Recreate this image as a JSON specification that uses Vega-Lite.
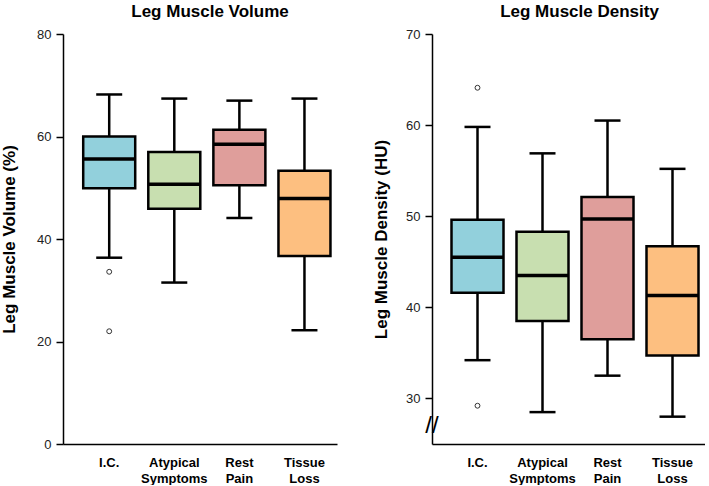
{
  "$schema": "https://vega.github.io/schema/vega-lite/v6.json",
  "background": "white",
  "padding": {"left": 0, "top": 3, "right": 0, "bottom": 0},
  "config": {
    "view": {"stroke": null},
    "font": "Liberation Sans",
    "concat": {"spacing": 35},
    "axisY": {"domainColor": "black", "domainWidth": 1.5, "tickColor": "black", "tickWidth": 1.5, "tickSize": 7, "labelFontSize": 13, "labelColor": "#222", "labelPadding": 5, "titleFontSize": 17, "titleFontWeight": "bold", "titleColor": "black", "titlePadding": 15, "grid": false},
    "axisX": {"domainColor": "black", "domainWidth": 1.5, "ticks": false, "labelFontSize": 13, "labelFontWeight": "bold", "labelColor": "black", "labelPadding": 12, "labelAngle": 0, "labelLineHeight": 16, "title": null, "grid": false},
    "title": {"fontSize": 17, "fontWeight": "bold", "color": "black", "anchor": "middle"}
  },
  "datasets": {
    "vol": [
      {"group": "I.C.", "min": 36.35, "q1": 49.9, "median": 55.6, "q3": 60.0, "max": 68.2},
      {"group": "Atypical Symptoms", "min": 31.5, "q1": 45.9, "median": 50.7, "q3": 57.0, "max": 67.4},
      {"group": "Rest Pain", "min": 44.1, "q1": 50.5, "median": 58.5, "q3": 61.3, "max": 67.0},
      {"group": "Tissue Loss", "min": 22.2, "q1": 36.7, "median": 47.9, "q3": 53.3, "max": 67.4}
    ],
    "volOut": [
      {"group": "I.C.", "value": 33.6},
      {"group": "I.C.", "value": 22.0}
    ],
    "den": [
      {"group": "I.C.", "min": 34.2, "q1": 41.6, "median": 45.5, "q3": 49.6, "max": 59.8},
      {"group": "Atypical Symptoms", "min": 28.5, "q1": 38.5, "median": 43.5, "q3": 48.3, "max": 56.9},
      {"group": "Rest Pain", "min": 32.5, "q1": 36.5, "median": 49.7, "q3": 52.1, "max": 60.5},
      {"group": "Tissue Loss", "min": 28.0, "q1": 34.7, "median": 41.3, "q3": 46.7, "max": 55.2}
    ],
    "denOut": [
      {"group": "I.C.", "value": 64.1},
      {"group": "I.C.", "value": 29.2}
    ],
    "brk": [{"value": 27.0, "label": "//"}]
  },
  "hconcat": [
    {
      "width": 274,
      "height": 410,
      "title": {"text": "Leg Muscle Volume", "dx": 10, "offset": 7},
      "layer": [
        {
          "data": {"name": "vol"},
          "mark": {"type": "rule", "color": "black", "strokeWidth": 2.5},
          "encoding": {
            "x": {"field": "group", "type": "nominal", "scale": {"domain": ["I.C.", "Atypical Symptoms", "Rest Pain", "Tissue Loss"], "paddingInner": 0, "paddingOuter": 0.105, "align": 1}, "axis": {"labelExpr": "split(datum.label, ' ')"}},
            "y": {"field": "min", "type": "quantitative", "scale": {"domain": [0, 80], "nice": false}, "axis": {"values": [0, 20, 40, 60, 80], "title": "Leg Muscle Volume (%)", "titlePadding": 18}},
            "y2": {"field": "max"}
          }
        },
        {
          "data": {"name": "vol"},
          "mark": {"type": "bar", "size": 52, "stroke": "black", "strokeWidth": 2.5, "opacity": 1},
          "encoding": {
            "x": {"field": "group", "type": "nominal"},
            "y": {"field": "q1", "type": "quantitative"},
            "y2": {"field": "q3"},
            "color": {"field": "group", "type": "nominal", "scale": {"domain": ["I.C.", "Atypical Symptoms", "Rest Pain", "Tissue Loss"], "range": ["#92d0dc", "#c8dfb0", "#df9e9b", "#fdbf80"]}, "legend": null}
          }
        },
        {
          "data": {"name": "vol"},
          "mark": {"type": "tick", "size": 52, "thickness": 3.5, "color": "black", "opacity": 1},
          "encoding": {"x": {"field": "group", "type": "nominal"}, "y": {"field": "median", "type": "quantitative"}}
        },
        {
          "data": {"name": "vol"},
          "mark": {"type": "tick", "size": 26, "thickness": 2.5, "color": "black", "opacity": 1},
          "encoding": {"x": {"field": "group", "type": "nominal"}, "y": {"field": "min", "type": "quantitative"}}
        },
        {
          "data": {"name": "vol"},
          "mark": {"type": "tick", "size": 26, "thickness": 2.5, "color": "black", "opacity": 1},
          "encoding": {"x": {"field": "group", "type": "nominal"}, "y": {"field": "max", "type": "quantitative"}}
        },
        {
          "data": {"name": "volOut"},
          "mark": {"type": "point", "shape": "circle", "filled": false, "size": 24, "stroke": "#333", "strokeWidth": 1, "opacity": 1},
          "encoding": {"x": {"field": "group", "type": "nominal"}, "y": {"field": "value", "type": "quantitative"}}
        }
      ]
    },
    {
      "width": 273,
      "height": 410,
      "title": {"text": "Leg Muscle Density", "dx": 11, "offset": 7},
      "layer": [
        {
          "data": {"name": "den"},
          "mark": {"type": "rule", "color": "black", "strokeWidth": 2.5},
          "encoding": {
            "x": {"field": "group", "type": "nominal", "scale": {"domain": ["I.C.", "Atypical Symptoms", "Rest Pain", "Tissue Loss"], "paddingInner": 0, "paddingOuter": 0.1, "align": 1}, "axis": {"labelExpr": "split(datum.label, ' ')"}},
            "y": {"field": "min", "type": "quantitative", "scale": {"domain": [25, 70], "nice": false, "zero": false}, "axis": {"values": [30, 40, 50, 60, 70], "title": "Leg Muscle Density (HU)"}},
            "y2": {"field": "max"}
          }
        },
        {
          "data": {"name": "den"},
          "mark": {"type": "bar", "size": 52, "stroke": "black", "strokeWidth": 2.5, "opacity": 1},
          "encoding": {
            "x": {"field": "group", "type": "nominal"},
            "y": {"field": "q1", "type": "quantitative"},
            "y2": {"field": "q3"},
            "color": {"field": "group", "type": "nominal", "scale": {"domain": ["I.C.", "Atypical Symptoms", "Rest Pain", "Tissue Loss"], "range": ["#92d0dc", "#c8dfb0", "#df9e9b", "#fdbf80"]}, "legend": null}
          }
        },
        {
          "data": {"name": "den"},
          "mark": {"type": "tick", "size": 52, "thickness": 3.5, "color": "black", "opacity": 1},
          "encoding": {"x": {"field": "group", "type": "nominal"}, "y": {"field": "median", "type": "quantitative"}}
        },
        {
          "data": {"name": "den"},
          "mark": {"type": "tick", "size": 26, "thickness": 2.5, "color": "black", "opacity": 1},
          "encoding": {"x": {"field": "group", "type": "nominal"}, "y": {"field": "min", "type": "quantitative"}}
        },
        {
          "data": {"name": "den"},
          "mark": {"type": "tick", "size": 26, "thickness": 2.5, "color": "black", "opacity": 1},
          "encoding": {"x": {"field": "group", "type": "nominal"}, "y": {"field": "max", "type": "quantitative"}}
        },
        {
          "data": {"name": "denOut"},
          "mark": {"type": "point", "shape": "circle", "filled": false, "size": 24, "stroke": "#333", "strokeWidth": 1, "opacity": 1},
          "encoding": {"x": {"field": "group", "type": "nominal"}, "y": {"field": "value", "type": "quantitative"}}
        },
        {
          "data": {"name": "brk"},
          "mark": {"type": "text", "fontSize": 24, "color": "black", "align": "center", "baseline": "middle", "x": 0},
          "encoding": {"y": {"field": "value", "type": "quantitative"}, "text": {"field": "label"}}
        }
      ]
    }
  ]
}
